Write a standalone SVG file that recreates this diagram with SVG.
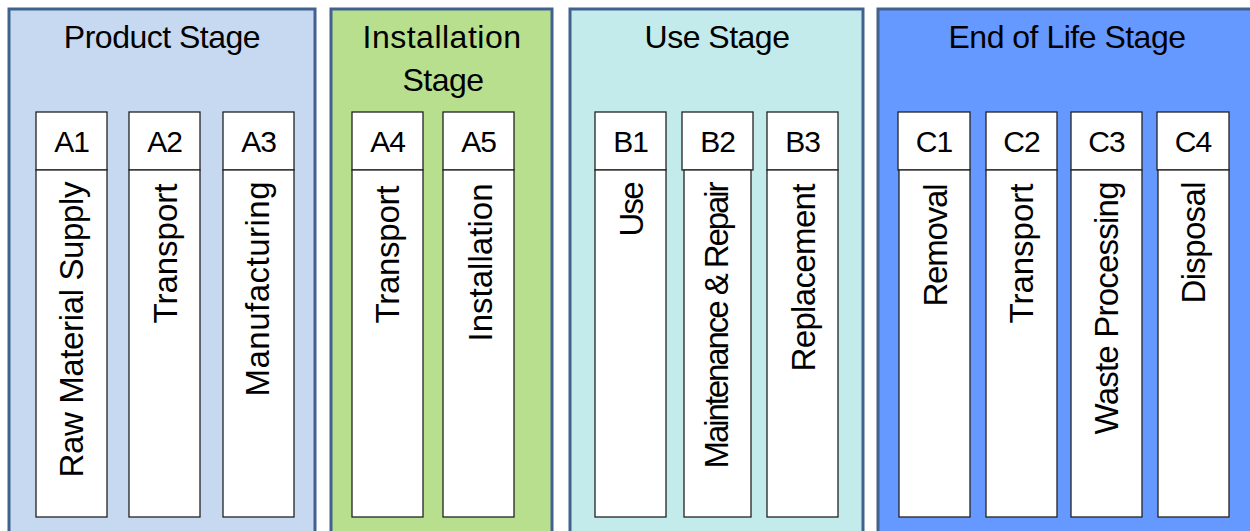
<svg xmlns="http://www.w3.org/2000/svg" width="1250" height="531" viewBox="0 0 1250 531">
<style>
.panel{stroke:#41628e;stroke-width:3}
.box{fill:#ffffff;stroke:#222222;stroke-width:1.3}
.title{font-family:"Liberation Sans",Arial,sans-serif;font-size:32px;fill:#000;text-anchor:middle;letter-spacing:-0.5px}
.code{font-family:"Liberation Sans",Arial,sans-serif;font-size:30px;fill:#000;text-anchor:middle;letter-spacing:-1px}
.lbl{font-family:"Liberation Sans",Arial,sans-serif;font-size:33px;fill:#000;text-anchor:start}
</style>
<rect width="1250" height="531" fill="#ffffff"/>
<g id="product-stage">
<rect class="panel" x="9" y="9" width="306" height="540" fill="#c6d9f1"/>
<text class="title" x="162" y="48">Product Stage</text>
</g>
<g id="installation-stage">
<rect class="panel" x="331" y="9" width="221" height="540" fill="#b8df8d"/>
<text class="title" x="441.5" y="48" textLength="158" lengthAdjust="spacing">Installation</text>
<text class="title" x="443" y="91">Stage</text>
</g>
<g id="use-stage">
<rect class="panel" x="570" y="9" width="293" height="540" fill="#c4ebeb"/>
<text class="title" x="717" y="48">Use Stage</text>
</g>
<g id="eol-stage">
<rect class="panel" x="878" y="9" width="380" height="540" fill="#6699ff"/>
<text class="title" x="1067" y="48">End of Life Stage</text>
</g>
<g id="A1"><rect class="box" x="36" y="112" width="71" height="58"/><rect class="box" x="36" y="170" width="71" height="347"/><text class="code" x="71.5" y="152">A1</text><text class="lbl" transform="translate(82.5,477.5) rotate(-90)" textLength="296" lengthAdjust="spacing">Raw Material Supply</text></g>
<g id="A2"><rect class="box" x="129" y="112" width="71" height="58"/><rect class="box" x="129" y="170" width="71" height="347"/><text class="code" x="164.5" y="152">A2</text><text class="lbl" transform="translate(176.5,323.5) rotate(-90)" textLength="140" lengthAdjust="spacing">Transport</text></g>
<g id="A3"><rect class="box" x="223" y="112" width="71" height="58"/><rect class="box" x="223" y="170" width="71" height="347"/><text class="code" x="258.5" y="152">A3</text><text class="lbl" transform="translate(268.5,396.5) rotate(-90)" textLength="215" lengthAdjust="spacing">Manufacturing</text></g>
<g id="A4"><rect class="box" x="352" y="112" width="71" height="58"/><rect class="box" x="352" y="170" width="71" height="347"/><text class="code" x="387.5" y="152">A4</text><text class="lbl" transform="translate(399,323.5) rotate(-90)" textLength="138" lengthAdjust="spacing">Transport</text></g>
<g id="A5"><rect class="box" x="443" y="112" width="71" height="58"/><rect class="box" x="443" y="170" width="71" height="347"/><text class="code" x="478.5" y="152">A5</text><text class="lbl" transform="translate(491.5,341.5) rotate(-90)" textLength="158" lengthAdjust="spacing">Installation</text></g>
<g id="B1"><rect class="box" x="595" y="112" width="71" height="58"/><rect class="box" x="595" y="170" width="71" height="347"/><text class="code" x="630.5" y="152">B1</text><text class="lbl" transform="translate(642.5,236.5) rotate(-90)" textLength="55" lengthAdjust="spacing">Use</text></g>
<g id="B2"><rect class="box" x="682" y="112" width="71" height="58"/><rect class="box" x="684" y="170" width="67" height="347"/><text class="code" x="717.5" y="152">B2</text><text class="lbl" transform="translate(728,468.5) rotate(-90)" textLength="287" lengthAdjust="spacing">Maintenance &amp; Repair</text></g>
<g id="B3"><rect class="box" x="767" y="112" width="71" height="58"/><rect class="box" x="767" y="170" width="71" height="347"/><text class="code" x="802.5" y="152">B3</text><text class="lbl" transform="translate(814.5,371.5) rotate(-90)" textLength="188" lengthAdjust="spacing">Replacement</text></g>
<g id="C1"><rect class="box" x="898" y="112" width="72" height="58"/><rect class="box" x="899" y="170" width="71" height="347"/><text class="code" x="934" y="152">C1</text><text class="lbl" transform="translate(946.5,306.5) rotate(-90)" textLength="123" lengthAdjust="spacing">Removal</text></g>
<g id="C2"><rect class="box" x="986" y="112" width="71" height="58"/><rect class="box" x="986" y="170" width="71" height="347"/><text class="code" x="1021.5" y="152">C2</text><text class="lbl" transform="translate(1032.5,323.5) rotate(-90)" textLength="140" lengthAdjust="spacing">Transport</text></g>
<g id="C3"><rect class="box" x="1071" y="112" width="71" height="58"/><rect class="box" x="1071" y="170" width="71" height="347"/><text class="code" x="1106.5" y="152">C3</text><text class="lbl" transform="translate(1117.5,434.5) rotate(-90)" textLength="253" lengthAdjust="spacing">Waste Processing</text></g>
<g id="C4"><rect class="box" x="1157" y="112" width="72" height="58"/><rect class="box" x="1158" y="170" width="71" height="347"/><text class="code" x="1193" y="152">C4</text><text class="lbl" transform="translate(1204.5,303.5) rotate(-90)" textLength="122" lengthAdjust="spacing">Disposal</text></g>
<g id="connectors"></g>
</svg>
